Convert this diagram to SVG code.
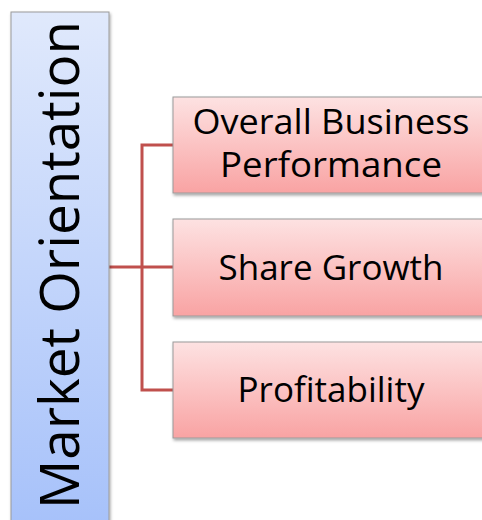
<svg xmlns="http://www.w3.org/2000/svg" width="482" height="520" viewBox="0 0 482 520">
<defs>
<linearGradient id="gb" x1="0" y1="0" x2="0" y2="1">
<stop offset="0" stop-color="#e0e9fc"/>
<stop offset="1" stop-color="#a6c1fa"/>
</linearGradient>
<linearGradient id="gr" x1="0" y1="0" x2="0" y2="1">
<stop offset="0" stop-color="#fde2e2"/>
<stop offset="1" stop-color="#f9a3a3"/>
</linearGradient>
<filter id="sh" x="-10%" y="-10%" width="130%" height="130%">
<feDropShadow dx="1" dy="2" stdDeviation="1.5" flood-color="#000" flood-opacity="0.35"/>
</filter>
<style>
.lbl{font-family:"Open Sans","Liberation Sans",sans-serif;fill:#000;text-anchor:middle}
.box{fill:url(#gr);stroke:#9a9a9a;stroke-width:1;filter:url(#sh)}
.con{fill:none;stroke:#c0504d;stroke-width:3}
</style>
</defs>
<g id="connectors">
<path class="con" d="M109 267 H173"/>
<path class="con" d="M173 145 H142 V390 H173"/>
</g>
<g id="market-orientation">
<rect x="11" y="12" width="98" height="520" fill="url(#gb)" stroke="#9a9a9a" stroke-width="1" filter="url(#sh)"/>
<text class="lbl" transform="translate(79 265) rotate(-90)" font-size="55" textLength="488" lengthAdjust="spacingAndGlyphs">Market Orientation</text>
</g>
<g id="overall-business-performance">
<rect class="box" x="173" y="97" width="312" height="96"/>
<text class="lbl" x="331" y="134" font-size="34" textLength="277" lengthAdjust="spacingAndGlyphs">Overall Business</text>
<text class="lbl" x="331" y="177" font-size="34" textLength="222" lengthAdjust="spacingAndGlyphs">Performance</text>
</g>
<g id="share-growth">
<rect class="box" x="173" y="219" width="312" height="97"/>
<text class="lbl" x="331" y="280" font-size="35">Share Growth</text>
</g>
<g id="profitability">
<rect class="box" x="173" y="342" width="312" height="96"/>
<text class="lbl" x="331" y="402" font-size="35">Profitability</text>
</g>
</svg>
